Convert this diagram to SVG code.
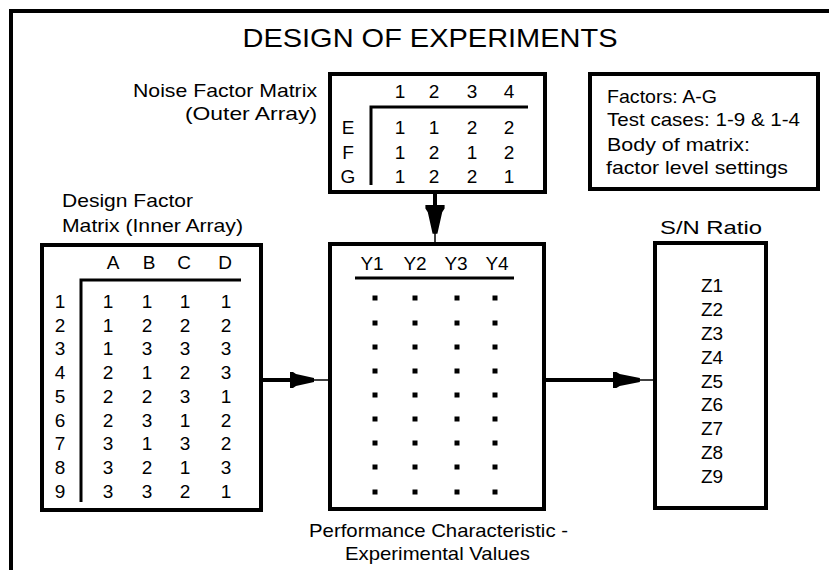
<svg xmlns="http://www.w3.org/2000/svg" width="829" height="570" viewBox="0 0 829 570">
<style>
text{font-family:"Liberation Sans",Arial,sans-serif;font-size:19px;fill:#000}
.t{font-size:26px}
.c{text-anchor:middle}
.e{text-anchor:end}
.box{fill:none;stroke:#000;stroke-width:4}
.ln{fill:none;stroke:#000;stroke-width:3}
.cn{fill:none;stroke:#000;stroke-width:4}
.thin{fill:none;stroke:#000;stroke-width:1.5}
.dot{fill:#000}
</style>
<defs>
<path id="ah" d="M0,-8 L3,-8 L6,-6 L24,-2 L24,2 L6,6 L3,8 L0,8 Z" fill="#000"/>
<rect id="d" x="-2.5" y="-2.5" width="5" height="5" fill="#000"/>
</defs>
<rect width="829" height="570" fill="#fff"/>
<path d="M11,570 L11,11 L829,11" class="box"/>
<text class="t c" x="430" y="47" textLength="375" lengthAdjust="spacingAndGlyphs">DESIGN OF EXPERIMENTS</text>

<g id="noise">
<text class="e" x="317" y="97" textLength="184" lengthAdjust="spacingAndGlyphs">Noise Factor Matrix</text>
<text class="e" x="317" y="120" textLength="132" lengthAdjust="spacingAndGlyphs">(Outer Array)</text>
<rect class="box" x="330" y="74" width="215" height="118"/>
<path class="ln" d="M371,185 L371,107 L528,107"/>
<g class="c">
<text x="400" y="98">1</text><text x="434" y="98">2</text><text x="472" y="98">3</text><text x="509" y="98">4</text>
<text x="348" y="134">E</text><text x="400" y="134">1</text><text x="434" y="134">1</text><text x="472" y="134">2</text><text x="509" y="134">2</text>
<text x="348" y="159">F</text><text x="400" y="159">1</text><text x="434" y="159">2</text><text x="472" y="159">1</text><text x="509" y="159">2</text>
<text x="348" y="183">G</text><text x="400" y="183">1</text><text x="434" y="183">2</text><text x="472" y="183">2</text><text x="509" y="183">1</text>
</g>
</g>

<g id="info">
<rect class="box" x="590" y="74" width="228" height="115"/>
<text x="607" y="103" textLength="110" lengthAdjust="spacingAndGlyphs">Factors: A-G</text>
<text x="607" y="126" textLength="193" lengthAdjust="spacingAndGlyphs">Test cases: 1-9 &amp; 1-4</text>
<text x="607" y="151" textLength="143" lengthAdjust="spacingAndGlyphs">Body of matrix:</text>
<text x="606" y="174" textLength="182" lengthAdjust="spacingAndGlyphs">factor level settings</text>
</g>

<g id="design">
<text x="62" y="207" textLength="131" lengthAdjust="spacingAndGlyphs">Design Factor</text>
<text x="62" y="232" textLength="181" lengthAdjust="spacingAndGlyphs">Matrix (Inner Array)</text>
<rect class="box" x="42" y="245" width="219" height="265"/>
<path class="ln" d="M81,502 L81,280 L241,280"/>
<g class="c">
<text x="113" y="269">A</text><text x="149" y="269">B</text><text x="184" y="269">C</text><text x="225" y="269">D</text>
<text x="60" y="308">1</text><text x="108" y="308">1</text><text x="147" y="308">1</text><text x="185" y="308">1</text><text x="226" y="308">1</text>
<text x="60" y="332">2</text><text x="108" y="332">1</text><text x="147" y="332">2</text><text x="185" y="332">2</text><text x="226" y="332">2</text>
<text x="60" y="355">3</text><text x="108" y="355">1</text><text x="147" y="355">3</text><text x="185" y="355">3</text><text x="226" y="355">3</text>
<text x="60" y="379">4</text><text x="108" y="379">2</text><text x="147" y="379">1</text><text x="185" y="379">2</text><text x="226" y="379">3</text>
<text x="60" y="403">5</text><text x="108" y="403">2</text><text x="147" y="403">2</text><text x="185" y="403">3</text><text x="226" y="403">1</text>
<text x="60" y="427">6</text><text x="108" y="427">2</text><text x="147" y="427">3</text><text x="185" y="427">1</text><text x="226" y="427">2</text>
<text x="60" y="450">7</text><text x="108" y="450">3</text><text x="147" y="450">1</text><text x="185" y="450">3</text><text x="226" y="450">2</text>
<text x="60" y="474">8</text><text x="108" y="474">3</text><text x="147" y="474">2</text><text x="185" y="474">1</text><text x="226" y="474">3</text>
<text x="60" y="498">9</text><text x="108" y="498">3</text><text x="147" y="498">3</text><text x="185" y="498">2</text><text x="226" y="498">1</text>
</g>
</g>

<g id="performance">
<rect class="box" x="330" y="244" width="214" height="265"/>
<g class="c">
<text x="372" y="270">Y1</text><text x="415" y="270">Y2</text><text x="456" y="270">Y3</text><text x="497" y="270">Y4</text>
</g>
<path class="ln" d="M355,278 L514,278"/>
<g>
<use href="#d" x="375" y="298"/><use href="#d" x="415" y="298"/><use href="#d" x="457" y="298"/><use href="#d" x="495" y="298"/>
<use href="#d" x="375" y="323"/><use href="#d" x="415" y="323"/><use href="#d" x="457" y="323"/><use href="#d" x="495" y="323"/>
<use href="#d" x="375" y="347"/><use href="#d" x="415" y="347"/><use href="#d" x="457" y="347"/><use href="#d" x="495" y="347"/>
<use href="#d" x="375" y="371"/><use href="#d" x="415" y="371"/><use href="#d" x="457" y="371"/><use href="#d" x="495" y="371"/>
<use href="#d" x="375" y="395"/><use href="#d" x="415" y="395"/><use href="#d" x="457" y="395"/><use href="#d" x="495" y="395"/>
<use href="#d" x="375" y="419"/><use href="#d" x="415" y="419"/><use href="#d" x="457" y="419"/><use href="#d" x="495" y="419"/>
<use href="#d" x="375" y="443"/><use href="#d" x="415" y="443"/><use href="#d" x="457" y="443"/><use href="#d" x="495" y="443"/>
<use href="#d" x="375" y="467"/><use href="#d" x="415" y="467"/><use href="#d" x="457" y="467"/><use href="#d" x="495" y="467"/>
<use href="#d" x="375" y="492"/><use href="#d" x="415" y="492"/><use href="#d" x="457" y="492"/><use href="#d" x="495" y="492"/>
</g>
<text x="309" y="537" textLength="259" lengthAdjust="spacingAndGlyphs">Performance Characteristic -</text>
<text x="345" y="560" textLength="185" lengthAdjust="spacingAndGlyphs">Experimental Values</text>
</g>

<g id="sn">
<text class="c" x="711" y="234" textLength="102" lengthAdjust="spacingAndGlyphs">S/N Ratio</text>
<rect class="box" x="655" y="243" width="111" height="265"/>
<g class="c">
<text x="712" y="292">Z1</text><text x="712" y="316">Z2</text><text x="712" y="340">Z3</text><text x="712" y="364">Z4</text><text x="712" y="388">Z5</text><text x="712" y="411">Z6</text><text x="712" y="435">Z7</text><text x="712" y="459">Z8</text><text x="712" y="483">Z9</text>
</g>
</g>

<g id="connectors">
<path class="cn" d="M435,194 L435,207"/>
<use href="#ah" transform="translate(435,205) rotate(90) scale(1.2,1.2)"/>
<path class="thin" d="M435,233 L435,243"/>
<path class="cn" d="M263,380 L292,380"/>
<use href="#ah" transform="translate(290,380)"/>
<path class="thin" d="M313,380 L329,380"/>
<path class="cn" d="M546,380 L615,380"/>
<use href="#ah" transform="translate(613,380) scale(1.12,1)"/>
<path class="thin" d="M639,380 L654,380"/>
</g>
</svg>
